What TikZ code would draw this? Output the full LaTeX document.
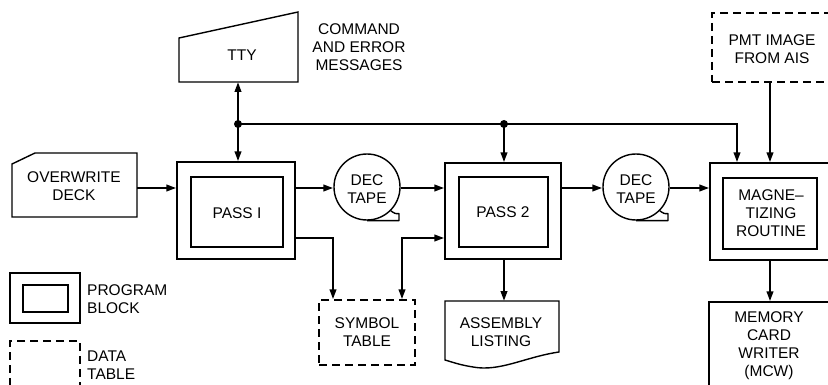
\documentclass[tikz,border=0pt]{standalone}
\usepackage{fontspec}
\setmainfont{Liberation Sans}
\usetikzlibrary{arrows.meta,calc}
\begin{document}
\begin{tikzpicture}[x=1pt,y=-1pt,
  every node/.style={font=\fontsize{15.5}{18}\selectfont, align=center, inner sep=0pt},
  dbox/.style={draw, line width=1.4pt, dash pattern=on 8pt off 5pt},
  shp/.style={draw, line width=1.4pt, line join=miter},
  conn/.style={line width=2.2pt},
  arr/.style={line width=2.2pt, -{Triangle[length=10pt,width=6.5pt]}},
  darr/.style={line width=2.2pt, {Triangle[length=10pt,width=6.5pt]}-{Triangle[length=10pt,width=6.5pt]}},
  txt/.style={}]
\useasboundingbox (0,0) rectangle (828,385);
\clip (0,0) rectangle (828,385);

% TTY
\draw[shp] (179,38) -- (298,12) -- (298,82) -- (179,82) -- cycle;
\node[txt] (tty) at (242,55) {TTY};
\coordinate (ttyb) at (238,82);
\node[txt] (cmd) at (359,47) {COMMAND\\AND ERROR\\MESSAGES};

% Overwrite deck
\draw[shp] (12,164) -- (35,153) -- (137,153) -- (137,217) -- (12,217) -- cycle;
\node[txt] (owr) at (74,186) {OVERWRITE\\DECK};
\coordinate (owe) at (137,188);

% Pass 1
\node[draw, line width=1.4pt, minimum width=118pt, minimum height=97pt] (pass1) at (236,210.5) {};
\node[draw, line width=1.4pt, minimum width=92pt, minimum height=70pt] (pass1i) at (237,212) {};
\node[txt] (p1t) at (237,213) {PASS I};

% Pass 2
\node[draw, line width=1.4pt, minimum width=116pt, minimum height=96pt] (pass2) at (503,211) {};
\node[draw, line width=1.4pt, minimum width=89pt, minimum height=70pt] (pass2i) at (503.5,212) {};
\node[txt] (p2t) at (503,212) {PASS 2};

% Magnetizing
\node[draw, line width=1.4pt, minimum width=120pt, minimum height=97pt] (mag) at (770,211.5) {};
\node[draw, line width=1.4pt, minimum width=94pt, minimum height=71pt] (magi) at (770,213.5) {};
\node[txt] (magt) at (771,213) {MAGNE--\\TIZING\\ROUTINE};

% Tapes
\node[circle, draw, line width=1.4pt, minimum size=66pt] (tape1) at (367,187) {};
\node[txt] (t1t) at (367,189) {DEC\\TAPE};
\draw[shp, line join=round] (tape1.south) -- ++(32,0) -- ++(0,-7) .. controls ++(-4,0) .. (tape1.-45);
\node[circle, draw, line width=1.4pt, minimum size=66pt] (tape2) at (636,187) {};
\node[txt] (t2t) at (636,189) {DEC\\TAPE};
\draw[shp, line join=round] (tape2.south) -- ++(32,0) -- ++(0,-7) .. controls ++(-4,0) .. (tape2.-45);

% PMT
\node[dbox, minimum width=123pt, minimum height=69pt] (pmt) at (773.5,47.5) {};
\node[txt] (pmtt) at (772,49) {PMT IMAGE\\FROM AIS};
\coordinate (pmtb) at (770,82);

% Symbol table
\node[dbox, minimum width=96pt, minimum height=65pt] (sym) at (367,332.5) {};
\node[txt] (symt) at (367,332) {SYMBOL\\TABLE};

% Assembly listing
\draw[shp] (445,301) -- (559,301) -- (559,352) .. controls (525,357) and (500,372) .. (473,367) .. controls (460,365) and (452,362) .. (445,360) -- cycle;
\node[txt] (asm) at (501,332) {ASSEMBLY\\LISTING};
\coordinate (asmtop) at (504,301);

% MCW
\node[draw, line width=1.4pt, minimum width=121pt, minimum height=98pt] (mcw) at (769.5,351) {};
\node[txt] (mcwt) at (769,346) {MEMORY\\CARD\\WRITER\\(MCW)};

% Legend
\node[draw, line width=1.4pt, minimum width=70pt, minimum height=50pt] (lgp) at (45,298) {};
\node[draw, line width=1.4pt, minimum width=45pt, minimum height=27pt] (lgpi) at (45.5,298.5) {};
\node[txt, anchor=west, align=left] (lgpt) at (87,299) {PROGRAM\\BLOCK};
\node[dbox, minimum width=70pt, minimum height=70pt] (lgd) at (45,376) {};
\node[txt, anchor=west, align=left] (lgdt) at (87,365) {DATA\\TABLE};

% Bus
\coordinate (j1) at (238,124);
\coordinate (j2) at (504,124);
\coordinate (c3) at (737,124);
\draw[darr] (ttyb) -- (ttyb |- pass1.north);
\draw[arr] (j1) -- (c3) -- (c3 |- mag.north);
\draw[arr] (j2) -- (j2 |- pass2.north);
\fill (j1) circle (4pt);
\fill (j2) circle (4pt);
\draw[arr] (pmtb) -- (pmtb |- mag.north);

% Main flow
\draw[arr] (owe) -- (owe -| pass1.west);
\draw[arr] (pass1.east |- 0,188) -- (tape1.west |- 0,188);
\draw[arr] (tape1.east |- 0,188) -- (pass2.west |- 0,188);
\draw[arr] (pass2.east |- 0,188) -- (tape2.west |- 0,188);
\draw[arr] (tape2.east |- 0,188) -- (mag.west |- 0,188);

% Down links
\coordinate (s1) at (333,238);
\coordinate (s2) at (402,238);
\draw[arr] (s1 -| pass1.east) -- (s1) -- (s1 |- sym.north);
\draw[darr] (s2 |- sym.north) -- (s2) -- (s2 -| pass2.west);
\draw[arr] (asmtop |- pass2.south) -- (asmtop);
\draw[arr] (mag.south) -- (mag.south |- mcw.north);
\end{tikzpicture}
\end{document}
